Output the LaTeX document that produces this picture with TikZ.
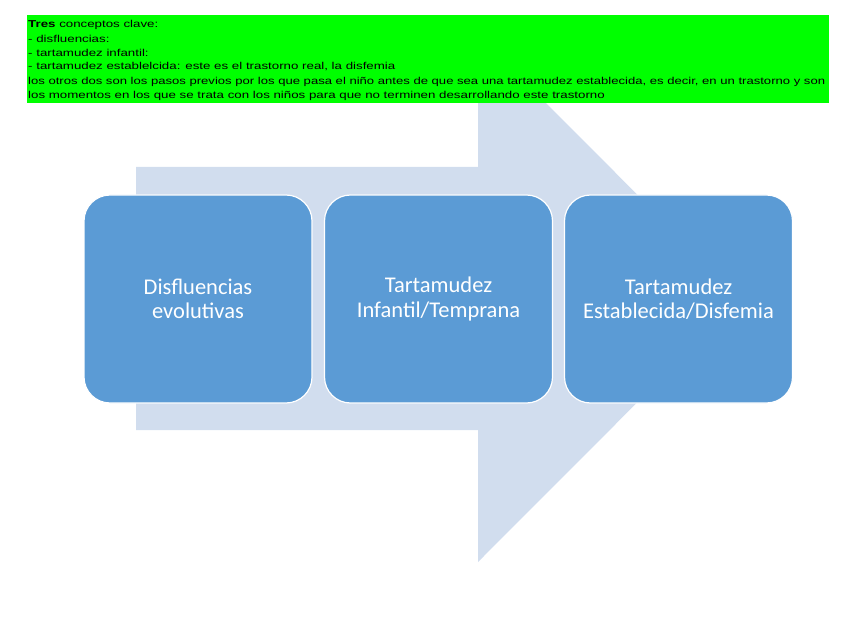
\documentclass[tikz,border=0pt]{standalone}
\usepackage{fontspec}
\setmainfont{Liberation Sans}
\newfontfamily\boxfont{Carlito}
\definecolor{boxblue}{HTML}{5B9BD5}
\definecolor{arrowblue}{HTML}{D1DDEE}
\definecolor{notegreen}{HTML}{00FF00}
\newcommand{\wideline}[1]{\scalebox{1.33}[1]{#1}}
\begin{document}
\begin{tikzpicture}[x=1pt,y=-1pt,
  stagebox/.style={draw=white,line width=1.2pt,fill=boxblue,rounded corners=26pt,
    minimum width=228pt,minimum height=208pt,inner sep=0pt,
    text=white,align=center,font=\boxfont\fontsize{22.5}{24.5}\selectfont},
  noteline/.style={anchor=west,inner sep=0pt,font=\fontsize{10}{11}\selectfont}]
\useasboundingbox (0,0) rectangle (848,636);
% big arrow
\fill[arrowblue] (136,167) -- (478,167) -- (478,35) -- (741,298.5) -- (478,562) -- (478,430) -- (136,430) -- cycle;
% boxes
\node[stagebox] (b1) at (198,299) {Disfluencias\\evolutivas};
\node[stagebox] (b2) at (438.5,299) {Tartamudez\\Infantil/Temprana};
\node[stagebox] (b3) at (678.5,299) {Tartamudez\\Establecida/Disfemia};
% note
\fill[notegreen] (27,15) rectangle (829,103);
\node[noteline] (n1) at (28,24.5) {\wideline{\textbf{Tres} conceptos clave:}};
\node[noteline] (n2) at (28,38.5) {\wideline{- disfluencias:}};
\node[noteline] (n3) at (28,52.5) {\wideline{- tartamudez infantil:}};
\node[noteline] (n4) at (28,66.5) {\wideline{- tartamudez establelcida: este es el trastorno real, la disfemia}};
\node[noteline] (n5) at (28,81.5) {\resizebox{797pt}{\height}{los otros dos son los pasos previos por los que pasa el niño antes de que sea una tartamudez establecida, es decir, en un trastorno y son}};
\node[noteline] (n6) at (28,95.5) {\wideline{los momentos en los que se trata con los niños para que no terminen desarrollando este trastorno}};
\end{tikzpicture}
\end{document}
